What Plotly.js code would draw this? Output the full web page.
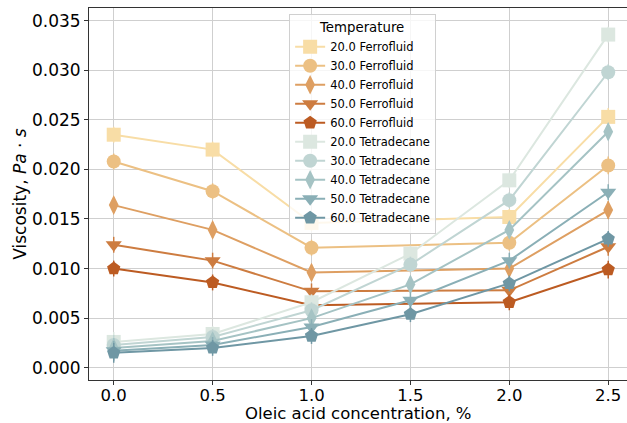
<!DOCTYPE html>
<html><head><meta charset="utf-8">
<script src="https://cdn.plot.ly/plotly-3.0.1.min.js"></script>
<style>html,body{margin:0;padding:0;background:#fff;}#chart{width:627px;height:423px;}</style>
</head><body><div id="chart"></div>
<script>
const concFerro = [0.0, 0.5, 1.0, 2.0, 2.5];
const concTetra = [0.0, 0.5, 1.0, 1.5, 2.0, 2.5];

const ferro20 = [0.0235, 0.0220, 0.0146, 0.0152, 0.0253];
const ferro30 = [0.0208, 0.0178, 0.0121, 0.0126, 0.0204];
const ferro40 = [0.0164, 0.0139, 0.0096, 0.0100, 0.0159];
const ferro50 = [0.0124, 0.0108, 0.0077, 0.0078, 0.0122];
const ferro60 = [0.0100, 0.0086, 0.0063, 0.0066, 0.0099];
const ferroErr = [0.0008, 0.0008, 0.0008, 0.0008, 0.0009];

const tetra20 = [0.0026, 0.0034, 0.0066, 0.0115, 0.0189, 0.0336];
const tetra30 = [0.0023, 0.0031, 0.0058, 0.0104, 0.0169, 0.0298];
const tetra40 = [0.0020, 0.0027, 0.0050, 0.0084, 0.0139, 0.0238];
const tetra50 = [0.0017, 0.0023, 0.0041, 0.0068, 0.0108, 0.0177];
const tetra60 = [0.0015, 0.0020, 0.0032, 0.0054, 0.0085, 0.0130];
const tetraErr = [0.0010, 0.0008, 0.0008, 0.0008, 0.0008, 0.0008];

const names = ['20.0 Ferrofluid','30.0 Ferrofluid','40.0 Ferrofluid','50.0 Ferrofluid','60.0 Ferrofluid',
               '20.0 Tetradecane','30.0 Tetradecane','40.0 Tetradecane','50.0 Tetradecane','60.0 Tetradecane'];
const xTickVals = [0, 0.5, 1.0, 1.5, 2.0, 2.5];
const xTickText = ['0.0','0.5','1.0','1.5','2.0','2.5'];
const xTitle = 'Oleic acid concentration, %';
const yTitle = 'Viscosity, <i>Pa</i> · <i>s</i>';

const colors = ['#F8DDA6','#ECC083','#DE9F62','#CD7C40','#BC5B22',
                '#DCE7E0','#C0D5D3','#A5C3C4','#8AAFB6','#6F97A4'];
const symbols = ['square','circle','diamond-tall','triangle-down','pentagon'];

const ys = [ferro20, ferro30, ferro40, ferro50, ferro60, tetra20, tetra30, tetra40, tetra50, tetra60];
const traces = ys.map((y, i) => {
  const isF = i < 5;
  return {
    type: 'scatter', mode: 'lines+markers',
    x: isF ? concFerro : concTetra, y: y, name: names[i],
    line: {color: colors[i], width: 2},
    marker: {color: colors[i], symbol: symbols[i % 5], size: 14, line: {width: 0}},
    error_y: {type: 'data', array: isF ? ferroErr : tetraErr, visible: true, color: colors[i], thickness: 1.5, width: 0}
  };
});

const layout = {
  width: 627, height: 423,
  margin: {l: 89, r: 0, t: 8, b: 43},
  paper_bgcolor: '#fff', plot_bgcolor: '#fff',
  font: {family: 'DejaVu Sans', color: '#000'},
  showlegend: true,
  legend: {
    x: 0.372, y: 0.984, xanchor: 'left', yanchor: 'top',
    bgcolor: 'rgba(255,255,255,0.8)', bordercolor: '#d0d0d0', borderwidth: 1,
    font: {size: 11.5, family: 'DejaVu Sans'},
    title: {text: 'Temperature', side: 'top center', font: {size: 13.3, family: 'DejaVu Sans'}},
    tracegroupgap: 0
  },
  xaxis: {
    range: [-0.125, 2.595], tickvals: xTickVals, ticktext: xTickText,
    showgrid: true, gridcolor: '#cfcfcf', gridwidth: 1,
    zeroline: false, showline: true, linecolor: '#333', linewidth: 1, mirror: true,
    ticks: 'outside', ticklen: 4, tickcolor: '#333', ticklabelstandoff: -4,
    tickfont: {size: 16.5},
    automargin: false
  },
  yaxis: {
    range: [-0.00124, 0.03628], dtick: 0.005, tickformat: '.3f',
    showgrid: true, gridcolor: '#cfcfcf', gridwidth: 1,
    zeroline: false, showline: true, linecolor: '#333', linewidth: 1,
    ticks: 'outside', ticklen: 4, tickcolor: '#333',
    tickfont: {size: 17},
    title: {text: yTitle, font: {size: 17}},
    automargin: false
  },
  annotations: [{
    text: xTitle, xref: 'paper', yref: 'paper', x: 0.5, y: -0.091,
    xanchor: 'center', yanchor: 'middle', showarrow: false, font: {size: 16.5}
  }]
};

Plotly.newPlot('chart', traces, layout, {staticPlot: true, displayModeBar: false});
</script>
</body></html>
